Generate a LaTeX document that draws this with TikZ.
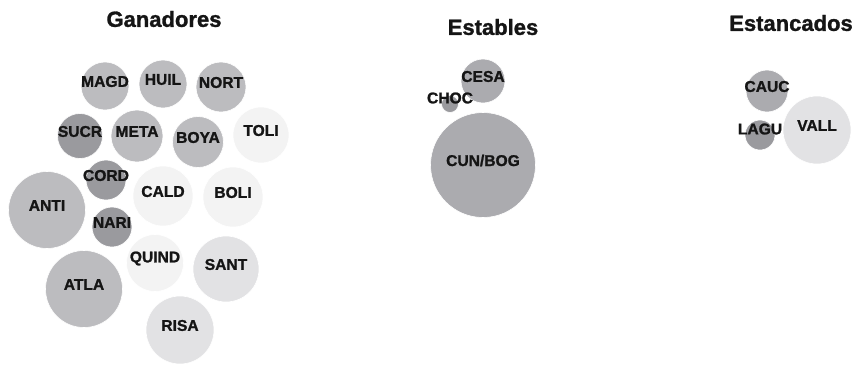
\documentclass[tikz,border=0pt]{standalone}
\usepackage{fontspec}
\setmainfont{Liberation Sans}[BoldFeatures={FakeBold=1.3}]
\definecolor{cdark}{HTML}{9A9A9E}
\definecolor{cmed}{HTML}{BCBCBF}
\definecolor{cmedb}{HTML}{ABABAF}
\definecolor{clight}{HTML}{E2E2E4}
\definecolor{cvlight}{HTML}{F3F3F3}
\definecolor{ctext}{HTML}{151515}
\begin{document}
\begin{tikzpicture}[x=1pt,y=-1pt,
  bub/.style={circle,inner sep=0pt,draw=white,line width=0.6pt,minimum size=#1},
  lab/.style={text=ctext,font=\fontsize{15.6}{15.6}\selectfont\bfseries,inner sep=0pt},
  ttl/.style={text=ctext,font=\fontsize{22}{22}\selectfont\bfseries,inner sep=0pt}]
\useasboundingbox (0,0) rectangle (856,365);
% titles
\node[ttl] (tgan) at (164,19) {Ganadores};
\node[ttl] (test) at (493,27) {Estables};
\node[ttl] (tesc) at (791,23) {Estancados};
% Ganadores circles
\node[bub=48pt,fill=cmed] (magd) at (105,86) {};
\node[bub=48pt,fill=cmed] (huil) at (163,84) {};
\node[bub=50pt,fill=cmed] (nort) at (221,87) {};
\node[bub=45pt,fill=cdark] (sucr) at (80,136) {};
\node[bub=52pt,fill=cmed] (meta) at (137,136) {};
\node[bub=51pt,fill=cmed] (boya) at (198,142) {};
\node[bub=56pt,fill=cvlight] (toli) at (261,135) {};
\node[bub=40pt,fill=cdark] (cord) at (106,180) {};
\node[bub=60pt,fill=cvlight] (cald) at (163,196) {};
\node[bub=60pt,fill=cvlight] (boli) at (233,197) {};
\node[bub=77pt,fill=cmed] (anti) at (47,210) {};
\node[bub=40pt,fill=cdark] (nari) at (112,227) {};
\node[bub=57pt,fill=cvlight] (quind) at (155,263) {};
\node[bub=66pt,fill=clight] (sant) at (226,269) {};
\node[bub=77pt,fill=cmed] (atla) at (84,289) {};
\node[bub=68pt,fill=clight] (risa) at (180,330) {};
% Estables circles
\node[bub=44pt,fill=cmedb] (cesa) at (483,81) {};
\node[bub=17pt,fill=cdark] (choc) at (450,104) {};
\node[bub=105pt,fill=cmedb] (cunbog) at (483,165) {};
% Estancados circles
\node[bub=42pt,fill=cmedb] (cauc) at (767,91) {};
\node[bub=30pt,fill=cdark] (lagu) at (760,135) {};
\node[bub=68pt,fill=clight] (vall) at (817,130) {};
% labels
\node[lab] (lmagd) at ([yshift=4.5pt]magd.center) {MAGD};
\node[lab] (lhuil) at ([yshift=4.5pt]huil.center) {HUIL};
\node[lab] (lnort) at ([yshift=4.5pt]nort.center) {NORT};
\node[lab] (lsucr) at ([yshift=4.5pt]sucr.center) {SUCR};
\node[lab] (lmeta) at ([yshift=4.5pt]meta.center) {META};
\node[lab] (lboya) at ([yshift=4.5pt]boya.center) {BOYA};
\node[lab] (ltoli) at ([yshift=4.5pt]toli.center) {TOLI};
\node[lab] (lcord) at ([yshift=4.5pt]cord.center) {CORD};
\node[lab] (lcald) at ([yshift=4.5pt]cald.center) {CALD};
\node[lab] (lboli) at ([yshift=4.5pt]boli.center) {BOLI};
\node[lab] (lanti) at ([yshift=4.5pt]anti.center) {ANTI};
\node[lab] (lnari) at ([yshift=4.5pt]nari.center) {NARI};
\node[lab] (lquind) at ([yshift=4.5pt]quind.center) {QUIND};
\node[lab] (lsant) at ([yshift=4.5pt]sant.center) {SANT};
\node[lab] (latla) at ([yshift=4.5pt]atla.center) {ATLA};
\node[lab] (lrisa) at ([yshift=4.5pt]risa.center) {RISA};
\node[lab] (lcesa) at ([yshift=4.5pt]cesa.center) {CESA};
\node[lab] (lchoc) at ([yshift=6pt]choc.center) {CHOC};
\node[lab] (lcunbog) at ([yshift=4.5pt]cunbog.center) {CUN/BOG};
\node[lab] (lcauc) at ([yshift=4.5pt]cauc.center) {CAUC};
\node[lab] (llagu) at ([yshift=6pt]lagu.center) {LAGU};
\node[lab] (lvall) at ([yshift=4.5pt]vall.center) {VALL};
\end{tikzpicture}
\end{document}
